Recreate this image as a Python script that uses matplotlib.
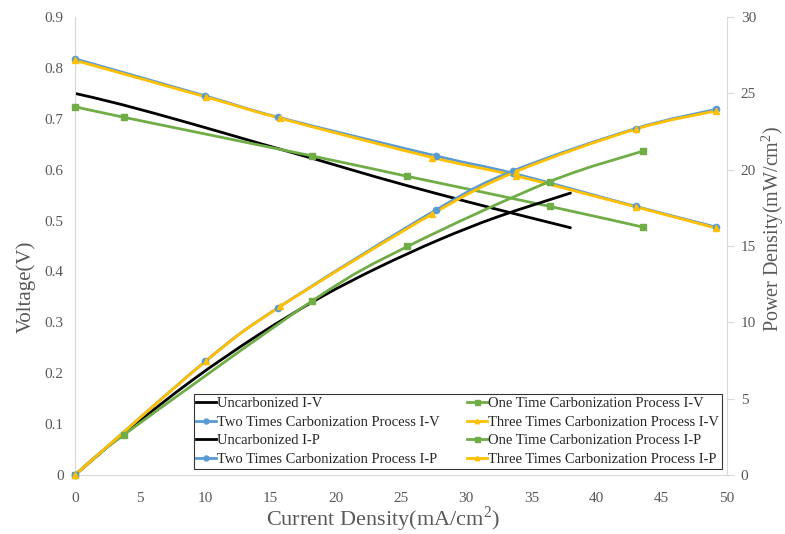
import numpy as np
import matplotlib.pyplot as plt
from matplotlib.path import Path
from matplotlib.patches import PathPatch
from matplotlib.lines import Line2D

plt.rcParams['font.family'] = 'Liberation Serif'
plt.rcParams['mathtext.fontset'] = 'custom'
plt.rcParams['mathtext.rm'] = 'Liberation Serif'

# Uncarbonized
unc_i = [0, 3.6, 9.0, 14.0, 18.8, 23.2, 27.9, 32.4, 38.0]
unc_v = [0.750, 0.728, 0.690, 0.653, 0.618, 0.585, 0.552, 0.522, 0.486]
unc_p = [0, 2.62, 6.21, 9.14, 11.62, 13.57, 15.40, 16.91, 18.47]

# One time carbonization
one_i = [0, 3.76, 18.2, 25.5, 36.4, 43.6]
one_v = [0.724, 0.703, 0.627, 0.587, 0.528, 0.487]
one_p = [0, 2.64, 11.41, 14.97, 19.22, 21.23]

# Two times carbonization
two_i = [0, 10.0, 15.6, 27.7, 33.6, 43.0, 49.2]
two_v = [0.818, 0.745, 0.703, 0.627, 0.593, 0.528, 0.487]
two_p = [0, 7.45, 10.97, 17.37, 19.92, 22.70, 23.96]

# Three times carbonization
three_i = [0, 10.05, 15.75, 27.4, 33.8, 43.0, 49.2]
three_v = [0.815, 0.743, 0.701, 0.624, 0.588, 0.527, 0.485]
three_p = [0, 7.47, 11.04, 17.10, 19.87, 22.66, 23.86]

c_black = '#000000'
c_green = '#70AD47'
c_blue = '#5B9BD5'
c_orange = '#FFC000'
gray = '#595959'


def smooth_line(ax, xs, ys, color, lw=2.0, zorder=2):
    # excel-like smoothed line: cubic bezier through the points
    x = np.asarray(xs, float)
    y = np.asarray(ys, float)
    n = len(x)
    verts = [(x[0], y[0])]
    codes = [Path.MOVETO]
    for k in range(n - 1):
        x0, y0 = (x[k - 1], y[k - 1]) if k > 0 else (x[k], y[k])
        x3, y3 = (x[k + 2], y[k + 2]) if k + 2 < n else (x[k + 1], y[k + 1])
        c1 = (x[k] + (x[k + 1] - x0) / 6, y[k] + (y[k + 1] - y0) / 6)
        c2 = (x[k + 1] - (x3 - x[k]) / 6, y[k + 1] - (y3 - y[k]) / 6)
        verts += [c1, c2, (x[k + 1], y[k + 1])]
        codes += [Path.CURVE4] * 3
    ax.add_patch(PathPatch(Path(verts, codes), fill=False, edgecolor=color,
                           lw=lw, zorder=zorder, capstyle='round', joinstyle='round'))


fig = plt.figure(figsize=(7.85, 5.34), dpi=100)
ax = fig.add_axes([0.0955, 0.1105, 0.8305, 0.8575])
ax2 = ax.twinx()

series = [
    (unc_i, unc_v, unc_p, c_black, None, 0),
    (one_i, one_v, one_p, c_green, 's', 4.5),
    (two_i, two_v, two_p, c_blue, 'o', 4.5),
    (three_i, three_v, three_p, c_orange, '^', 4),
]
for xi, vi, pi, col, mk, ms in series:
    smooth_line(ax, xi, vi, col)
    smooth_line(ax2, xi, pi, col)
    if mk:
        ax.plot(xi, vi, ls='none', marker=mk, ms=ms, color=col, zorder=3, clip_on=False)
        ax2.plot(xi, pi, ls='none', marker=mk, ms=ms, color=col, zorder=3, clip_on=False)

ax.set_xlim(0, 50)
ax.set_ylim(0, 0.9)
ax2.set_ylim(0, 30)
ax.set_xticks(np.arange(0, 51, 5))
ax.set_yticks(np.arange(0, 0.91, 0.1))
ax.set_yticklabels(['0'] + ['%.1f' % v for v in np.arange(0.1, 0.91, 0.1)])
ax2.set_yticks(np.arange(0, 31, 5))

for a in (ax, ax2):
    for s in a.spines.values():
        s.set_visible(False)
ax.spines['left'].set_visible(True)
ax.spines['left'].set_color('#D9D9D9')
ax.spines['bottom'].set_visible(True)
ax.spines['bottom'].set_color('#D9D9D9')
ax2.spines['right'].set_visible(True)
ax2.spines['right'].set_color('#D9D9D9')

ax.tick_params(axis='y', length=0, labelsize=11, labelcolor=gray, pad=8)
ax.tick_params(axis='x', length=0, labelsize=11, labelcolor=gray, pad=12)
ax2.tick_params(axis='y', length=5, color='#D9D9D9', labelsize=11, labelcolor=gray, pad=5)

ax.set_xlabel('Current Density(mA/cm$^{2}$)', fontsize=16, color=gray)
ax.xaxis.set_label_coords(0.472, -0.064)
ax.set_ylabel('Voltage(V)', fontsize=15, color=gray)
ax.yaxis.set_label_coords(-0.06, 0.41)
ax2.set_ylabel('Power Density(mW/cm$^{2}$)', fontsize=14.5, color=gray)
ax2.yaxis.set_label_coords(1.05, 0.537)

def h(col, mk, ms):
    return Line2D([], [], color=col, lw=2, marker=mk, ms=ms * 0.8 if ms else 0)

handles = [h(c_black, None, 0), h(c_blue, 'o', 4.5), h(c_black, None, 0), h(c_blue, 'o', 4.5),
           h(c_green, 's', 4.5), h(c_orange, '^', 4), h(c_green, 's', 4.5), h(c_orange, '^', 4)]
labels = ['Uncarbonized I-V', 'Two Times Carbonization Process I-V',
          'Uncarbonized I-P', 'Two Times Carbonization Process I-P',
          'One Time Carbonization Process I-V', 'Three Times Carbonization Process I-V',
          'One Time Carbonization Process I-P', 'Three Times Carbonization Process I-P']
leg = ax2.legend(handles, labels, ncol=2, loc='lower right', bbox_to_anchor=(0.992, 0.013),
                 fontsize=10.5, frameon=True, fancybox=False, edgecolor='#000000',
                 handlelength=1.35, handletextpad=0.05, columnspacing=1.9,
                 labelspacing=0.38, borderpad=0.2, borderaxespad=0.0)
leg.get_frame().set_linewidth(0.8)
for t in leg.get_texts():
    t.set_color('#262626')

fig.savefig('out.png', dpi=100)
